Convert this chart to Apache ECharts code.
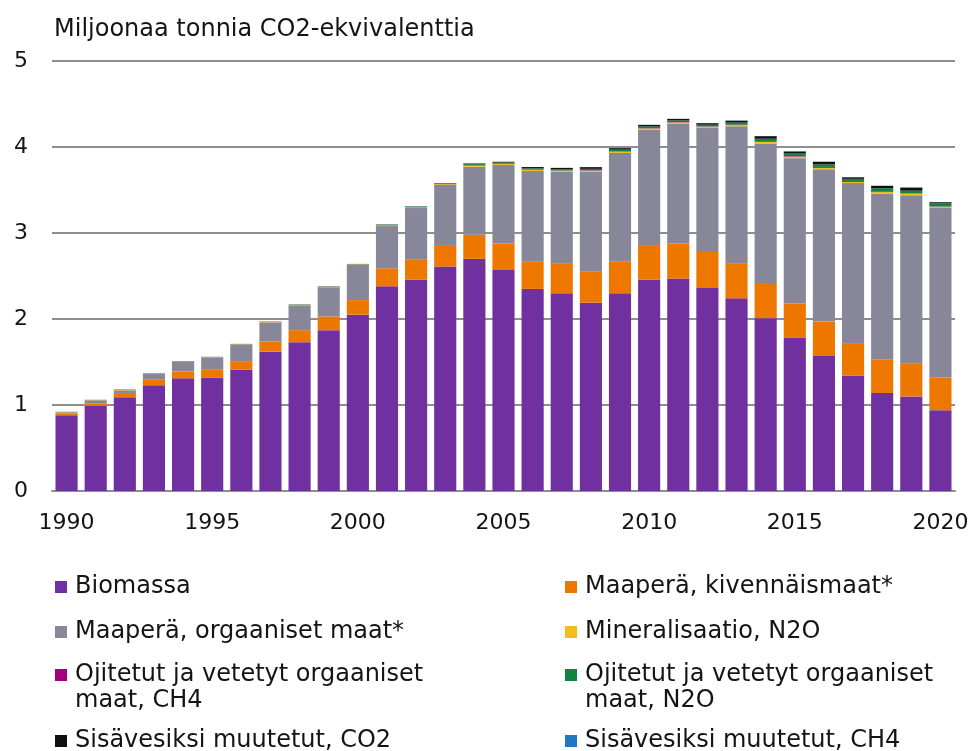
<!DOCTYPE html>
<html>
<head>
<meta charset="utf-8">
<script src="https://cdn.jsdelivr.net/npm/echarts@6/dist/echarts.min.js"></script>
<style>
  html, body { margin: 0; padding: 0; background: #fff; }
  #chart { width: 973px; height: 751px; }
</style>
</head>
<body>
<div id="chart"></div>
<script>
const years = [
  '1990', '1991', '1992', '1993', '1994', '1995', '1996', '1997', '1998', '1999',
  '2000', '2001', '2002', '2003', '2004', '2005', '2006', '2007', '2008', '2009',
  '2010', '2011', '2012', '2013', '2014', '2015', '2016', '2017', '2018', '2019', '2020'
];

const biomassa = [
  0.88, 0.99, 1.09, 1.23, 1.31, 1.32, 1.41, 1.62, 1.73, 1.87,
  2.05, 2.38, 2.46, 2.61, 2.70, 2.57, 2.35, 2.30, 2.19, 2.30,
  2.46, 2.47, 2.36, 2.24, 2.01, 1.78, 1.57, 1.34, 1.14, 1.10, 0.94
];
const kivennaismaat = [
  0.02, 0.03, 0.05, 0.07, 0.08, 0.09, 0.10, 0.12, 0.14, 0.16,
  0.17, 0.21, 0.23, 0.25, 0.28, 0.31, 0.32, 0.35, 0.36, 0.37,
  0.40, 0.41, 0.42, 0.41, 0.41, 0.40, 0.40, 0.38, 0.39, 0.38, 0.38
];
const orgaanisetMaat = [
  0.01, 0.03, 0.03, 0.06, 0.11, 0.14, 0.19, 0.22, 0.29, 0.34,
  0.41, 0.49, 0.60, 0.70, 0.79, 0.91, 1.05, 1.06, 1.16, 1.26,
  1.34, 1.39, 1.44, 1.59, 1.62, 1.69, 1.77, 1.86, 1.93, 1.96, 1.97
];
const mineralisaatio = [
  0.004, 0.004, 0.004, 0.004, 0.004, 0.004, 0.004, 0.004, 0.004, 0.004,
  0.004, 0.008, 0.008, 0.008, 0.012, 0.012, 0.014, 0.014, 0.015, 0.015,
  0.015, 0.015, 0.015, 0.015, 0.018, 0.018, 0.018, 0.015, 0.018, 0.018, 0.015
];
const ojitetutCH4 = [
  0.001, 0.001, 0.001, 0.001, 0.001, 0.001, 0.001, 0.001, 0.001, 0.001,
  0.001, 0.002, 0.002, 0.002, 0.003, 0.003, 0.003, 0.003, 0.006, 0.004,
  0.004, 0.004, 0.004, 0.004, 0.008, 0.006, 0.010, 0.010, 0.008, 0.004, 0.004
];
const ojitetutN2O = [
  0.004, 0.004, 0.004, 0.004, 0.004, 0.004, 0.004, 0.004, 0.004, 0.004,
  0.004, 0.008, 0.008, 0.008, 0.015, 0.015, 0.015, 0.015, 0.015, 0.020,
  0.020, 0.020, 0.020, 0.025, 0.030, 0.030, 0.030, 0.025, 0.035, 0.030, 0.035
];
const sisavesiCO2 = [
  0.001, 0.001, 0.001, 0.001, 0.001, 0.001, 0.001, 0.001, 0.001, 0.001,
  0.001, 0.002, 0.002, 0.002, 0.008, 0.008, 0.015, 0.015, 0.020, 0.018,
  0.018, 0.018, 0.018, 0.022, 0.030, 0.024, 0.030, 0.018, 0.027, 0.036, 0.014
];
const sisavesiCH4 = [
  0.0005, 0.0005, 0.0005, 0.0005, 0.0005, 0.0005, 0.0005, 0.0005, 0.0005, 0.0005,
  0.0005, 0.001, 0.001, 0.001, 0.001, 0.001, 0.001, 0.001, 0.001, 0.001,
  0.001, 0.001, 0.001, 0.002, 0.002, 0.002, 0.002, 0.002, 0.002, 0.002, 0.002
];

const yTicks = [0, 1, 2, 3, 4, 5];

// label = first legend line, label2 = wrapped second line (if any)
const seriesDefs = [
  { name: 'Biomassa', data: biomassa, color: '#7030a0', label: 'Biomassa' },
  { name: 'Maaperä, kivennäismaat*', data: kivennaismaat, color: '#ee7700', label: 'Maaperä, kivennäismaat*' },
  { name: 'Maaperä, orgaaniset maat*', data: orgaanisetMaat, color: '#878799', label: 'Maaperä, orgaaniset maat*' },
  { name: 'Mineralisaatio, N2O', data: mineralisaatio, color: '#f0bc1e', label: 'Mineralisaatio, N2O' },
  { name: 'Ojitetut CH4', data: ojitetutCH4, color: '#a3007d', label: 'Ojitetut ja vetetyt orgaaniset', label2: 'maat, CH4' },
  { name: 'Ojitetut N2O', data: ojitetutN2O, color: '#13843f', label: 'Ojitetut ja vetetyt orgaaniset', label2: 'maat, N2O' },
  { name: 'Sisävesiksi muutetut, CO2', data: sisavesiCO2, color: '#111111', label: 'Sisävesiksi muutetut, CO2' },
  { name: 'Sisävesiksi muutetut, CH4', data: sisavesiCH4, color: '#1f78c0', label: 'Sisävesiksi muutetut, CH4' }
];

const textColor = '#141414';
const font = '"DejaVu Sans", sans-serif';
const gridColor = '#8e8e8e';

// legend positions: left column / right column, four rows
const legendPos = [
  { left: 55, top: 575 }, { left: 565, top: 575 },
  { left: 55, top: 620 }, { left: 565, top: 620 },
  { left: 55, top: 663 }, { left: 565, top: 663 },
  { left: 55, top: 729 }, { left: 565, top: 729 }
];

const labelByName = {};
seriesDefs.forEach((s) => { labelByName[s.name] = s.label; });

const legends = seriesDefs.map((s, i) => ({
  left: legendPos[i].left,
  top: legendPos[i].top,
  data: [s.name],
  icon: 'rect',
  itemWidth: 12,
  itemHeight: 12,
  itemGap: 0,
  padding: 0,
  selectedMode: false,
  formatter: (name) => labelByName[name],
  textStyle: {
    color: textColor,
    fontFamily: font,
    fontSize: 24,
    lineHeight: 24,
    padding: [0, 0, 0, 3]
  }
}));

// second lines of the wrapped legend entries
const legendSecondLines = [];
seriesDefs.forEach((s, i) => {
  if (!s.label2) return;
  legendSecondLines.push({
    type: 'text',
    left: legendPos[i].left + 20,
    top: legendPos[i].top + 26,
    style: {
      text: s.label2,
      fill: textColor,
      fontFamily: font,
      fontSize: 24,
      lineHeight: 24
    }
  });
});

const chart = echarts.init(document.getElementById('chart'));

chart.setOption({
  animation: false,
  title: {
    text: 'Miljoonaa tonnia CO2-ekvivalenttia',
    left: 49,
    top: 13,
    textStyle: {
      color: textColor,
      fontFamily: font,
      fontSize: 24,
      fontWeight: 'normal'
    }
  },
  legend: legends,
  graphic: legendSecondLines,
  grid: {
    left: 52,
    right: 18,
    top: 61,
    bottom: 260,
    containLabel: false
  },
  xAxis: {
    type: 'category',
    data: years,
    axisTick: { show: false },
    axisLine: { lineStyle: { color: gridColor, width: 2 } },
    axisLabel: {
      interval: 4,
      color: textColor,
      fontFamily: font,
      fontSize: 22,
      margin: 21
    }
  },
  yAxis: {
    type: 'value',
    min: yTicks[0],
    max: yTicks[yTicks.length - 1],
    interval: 1,
    axisLine: { show: false },
    axisTick: { show: false },
    splitLine: { lineStyle: { color: gridColor, width: 2 } },
    axisLabel: {
      color: textColor,
      fontFamily: font,
      fontSize: 22,
      margin: 24
    }
  },
  series: seriesDefs.map((s) => ({
    name: s.name,
    type: 'bar',
    stack: 'total',
    barCategoryGap: '24%',
    data: s.data,
    itemStyle: { color: s.color },
    emphasis: { disabled: true }
  }))
});

window.addEventListener('resize', () => chart.resize());
</script>
</body>
</html>
